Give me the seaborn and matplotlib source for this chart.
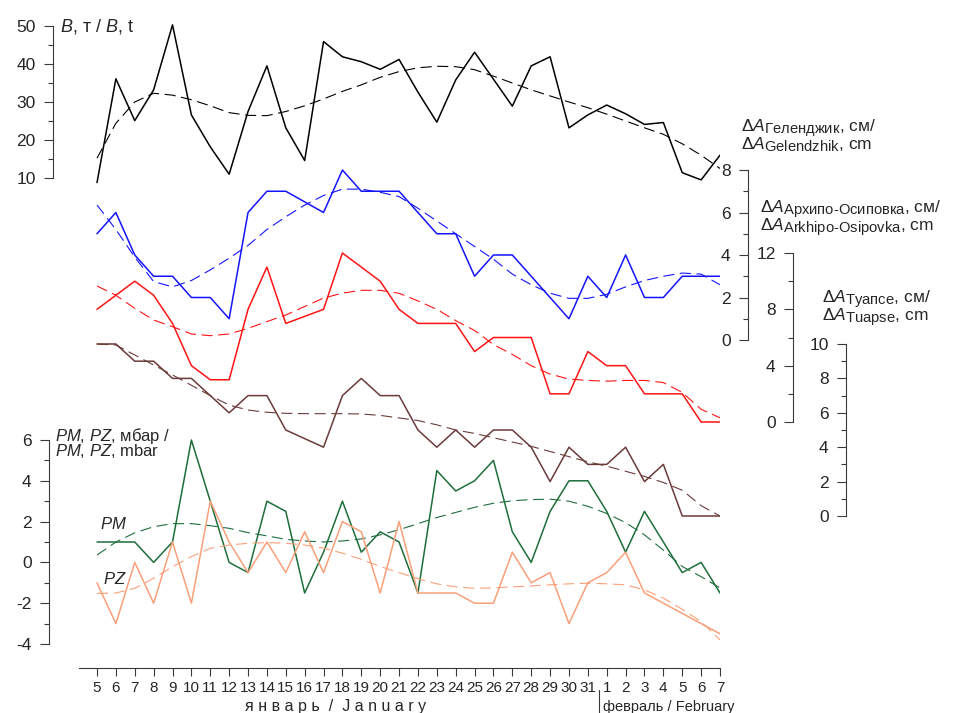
"""Ветровой нагон: B, ΔA по трём постам и давление PM/PZ, январь–февраль."""

import matplotlib

matplotlib.use("Agg")
import matplotlib.pyplot as plt
import numpy as np
import pandas as pd
import seaborn as sns
from matplotlib import font_manager
from matplotlib.lines import Line2D

try:
    import matplotlib._mathtext as _mt

    _mt.SHRINK_FACTOR = 0.85  # подстрочные индексы крупнее, как в оригинале
except ImportError:
    pass

W, H = 971, 713
PLOT_LEFT, PLOT_RIGHT = 79, 720
PLOT_TOP, PLOT_BOTTOM = 15, 668
FIRST_TICK_PX = 97

DAYS = ["5", "6", "7", "8", "9", "10", "11", "12", "13", "14", "15", "16", "17",
        "18", "19", "20", "21", "22", "23", "24", "25", "26", "27", "28", "29",
        "30", "31", "1", "2", "3", "4", "5", "6", "7"]

B_OBS = [8.8, 36.1, 25.1, 33.2, 50.3, 26.6, 18.2, 11.0, 27.5, 39.5, 23.2, 14.6, 45.9,
         41.9, 40.6, 38.6, 41.2, 32.6, 24.7, 35.8, 43.1, 36.0, 28.9, 39.5, 41.9,
         23.2, 26.6, 29.2, 26.9, 24.1, 24.6, 11.4, 9.5, 16.0]
B_TREND = [15.2, 24.4, 30.0, 32.3, 31.8, 30.6, 29.0, 27.2, 26.5, 26.4, 27.5, 29.0, 30.8,
           32.8, 34.5, 36.5, 38.0, 39.0, 39.4, 39.3, 38.5, 36.8, 35.0, 33.2, 31.6,
           30.0, 28.5, 26.8, 25.0, 23.2, 21.5, 19.0, 16.0, 12.5]

GEL_OBS = [5, 6, 4, 3, 3, 2, 2, 1, 6, 7, 7, 6.5, 6, 8, 7, 7, 7, 6, 5, 5, 3, 4, 4, 3, 2,
           1, 3, 2, 4, 2, 2, 3, 3, 3]
GEL_TREND = [6.35, 5.2, 3.9, 2.75, 2.5, 2.8, 3.3, 3.85, 4.45, 5.2, 5.8, 6.35, 6.8, 7.1,
             7.1, 6.95, 6.75, 6.2, 5.6, 5.0, 4.4, 3.8, 3.1, 2.6, 2.2, 1.96, 1.96, 2.15,
             2.5, 2.8, 3.0, 3.15, 3.1, 2.6]

ARKH_OBS = [8, 9, 10, 9, 7, 4, 3, 3, 8, 11, 7, 7.5, 8, 12, 11, 10, 8, 7, 7, 7, 5, 6, 6,
            6, 2, 2, 5, 4, 4, 2, 2, 2, 0, 0]
ARKH_TREND = [9.66, 9.0, 8.07, 7.24, 6.77, 6.25, 6.13, 6.25, 6.65, 7.13, 7.6, 8.2, 8.8,
              9.15, 9.35, 9.35, 9.14, 8.6, 8.0, 7.2, 6.5, 5.5, 4.8, 4.0, 3.4, 3.05,
              2.95, 2.9, 2.95, 2.95, 2.8, 2.1, 0.9, 0.3]

TUA_OBS = [10, 10, 9, 9, 8, 8, 7, 6, 7, 7, 5, 4.5, 4, 7, 8, 7, 7, 5, 4, 5, 4, 5, 5, 4,
           2, 4, 3, 3, 4, 2, 3, 0, 0, 0]
TUA_TREND = [10, 9.94, 9.36, 8.78, 8.2, 7.6, 7.0, 6.45, 6.16, 6.03, 5.97, 5.95, 5.95,
             5.95, 5.93, 5.85, 5.7, 5.55, 5.3, 5.0, 4.8, 4.55, 4.3, 4.05, 3.75, 3.45,
             3.15, 2.9, 2.6, 2.3, 1.95, 1.5, 0.6, 0.0]

PM_OBS = [1, 1, 1, 0, 1, 6, 3, 0, -0.5, 3, 2.5, -1.5, 0.5, 3, 0.5, 1.5, 1, -1.5, 4.5,
          3.5, 4, 5, 1.5, 0, 2.5, 4, 4, 2.5, 0.5, 2.5, 1, -0.5, 0, -1.5]
PM_TREND = [0.36, 1.0, 1.45, 1.75, 1.9, 1.9, 1.8, 1.67, 1.46, 1.3, 1.13, 1.05, 1.0,
            1.05, 1.15, 1.35, 1.6, 1.9, 2.2, 2.45, 2.7, 2.9, 3.02, 3.08, 3.1, 3.0,
            2.75, 2.4, 1.95, 1.35, 0.6, -0.2, -0.7, -1.25]

PZ_OBS = [-1, -3, 0, -2, 1, -2, 3, 1, -0.5, 1, -0.5, 1.5, -0.5, 2, 1.5, -1.5, 2, -1.5,
          -1.5, -1.5, -2, -2, 0.5, -1, -0.5, -3, -1, -0.5, 0.5, -1.5, -2, -2.5, -3, -3.5]
PZ_TREND = [-1.52, -1.5, -1.27, -0.78, -0.21, 0.28, 0.69, 0.85, 0.94, 0.97, 0.94, 0.85,
            0.7, 0.45, 0.15, -0.2, -0.5, -0.8, -1.05, -1.2, -1.27, -1.25, -1.2, -1.15,
            -1.1, -1.05, -1.02, -1.05, -1.1, -1.35, -1.75, -2.3, -2.9, -3.8]

# оси: (столбец наблюдений, столбец тренда, цвет, x оси в px,
#        (значение, px), (значение, px), шаг подписей, шаг мелких делений)
PANELS = {
    "B": ("b_obs", "b_trend", "#000000", 53, (10, 178), (50, 26), 10, 5),
    "gel": ("gel_obs", "gel_trend", "#1414ff", 748, (0, 340), (8, 170), 2, 1),
    "arkh": ("arkh_obs", "arkh_trend", "#ff1414", 793, (0, 422), (12, 253), 4, 2),
    "tua": ("tua_obs", "tua_trend", "#6b3b3b", 846, (0, 516), (10, 344), 2, 1),
    "pm": ("pm_obs", "pm_trend", "#1e6e3c", 49, (-4, 644), (6, 440), 2, 1),
}
PZ_COLOR = "#f9a07a"
SPINE = "#3a3a3a"


def pick_font(names: list[str]) -> str:
    for name in names:
        try:
            font_manager.findfont(font_manager.FontProperties(family=name),
                                  fallback_to_default=False)
            return name
        except ValueError:
            continue
    return ""


def ylim_for(ref1, ref2):
    (v1, p1), (v2, p2) = ref1, ref2
    s = (p1 - p2) / (v2 - v1)
    return v1 - (PLOT_BOTTOM - p1) / s, v1 + (p1 - PLOT_TOP) / s


def fx(px):
    return px / W


def fy(py):
    return 1 - py / H


def build_axes(fig, spine_px, ref1, ref2, step, minor):
    rect = [fx(PLOT_LEFT), fy(PLOT_BOTTOM), (PLOT_RIGHT - PLOT_LEFT) / W,
            (PLOT_BOTTOM - PLOT_TOP) / H]
    ax = fig.add_axes(rect, label=f"ax{spine_px}")
    ax.patch.set_visible(False)
    for side in ("top", "right", "bottom"):
        ax.spines[side].set_visible(False)
    width_px = PLOT_RIGHT - PLOT_LEFT
    ax.spines["left"].set_position(("axes", (spine_px - PLOT_LEFT) / width_px))
    lo, hi = ref1[0], ref2[0]
    ax.spines["left"].set_bounds(lo, hi)
    ax.spines["left"].set_color(SPINE)
    ax.spines["left"].set_linewidth(0.8)
    x_step = (PLOT_RIGHT - FIRST_TICK_PX) / (len(DAYS) - 1)
    ax.set_xlim(-(FIRST_TICK_PX - PLOT_LEFT) / x_step, len(DAYS) - 1)
    ax.set_ylim(*ylim_for(ref1, ref2))
    ax.set_yticks(np.arange(lo, hi + step / 2, step))
    ax.set_yticks(np.arange(lo, hi + minor / 2, minor), minor=True)
    ax.tick_params(axis="y", which="both", left=True, direction="out", width=0.8,
                   color=SPINE)
    ax.tick_params(axis="y", which="major", length=6.5, pad=6, labelsize=12.5)
    ax.tick_params(axis="y", which="minor", length=3.5)
    ax.set_xticks([])
    return ax


def main() -> None:
    sns.set_style("white")
    plt.rcParams["font.family"] = ["Liberation Sans", "DejaVu Sans"]
    plt.rcParams["axes.unicode_minus"] = False
    plt.rcParams["mathtext.fontset"] = "custom"
    plt.rcParams["mathtext.rm"] = "Liberation Sans"
    plt.rcParams["mathtext.it"] = "Liberation Sans:italic"
    plt.rcParams["mathtext.bf"] = "Liberation Sans:bold"
    plt.rcParams["mathtext.sf"] = "Liberation Sans"

    df = pd.DataFrame({
        "idx": np.arange(len(DAYS)),
        "b_obs": B_OBS, "b_trend": B_TREND,
        "gel_obs": GEL_OBS, "gel_trend": GEL_TREND,
        "arkh_obs": ARKH_OBS, "arkh_trend": ARKH_TREND,
        "tua_obs": TUA_OBS, "tua_trend": TUA_TREND,
        "pm_obs": PM_OBS, "pm_trend": PM_TREND,
        "pz_obs": PZ_OBS, "pz_trend": PZ_TREND,
    })

    fig = plt.figure(figsize=(W / 100, H / 100), dpi=100)
    axes = {}
    for key, (obs, trend, color, spine_px, r1, r2, step, minor) in PANELS.items():
        ax = build_axes(fig, spine_px, r1, r2, step, minor)
        sns.lineplot(data=df, x="idx", y=trend, ax=ax, color=color, linewidth=0.8,
                     linestyle=(0, (10, 5)), legend=False)
        sns.lineplot(data=df, x="idx", y=obs, ax=ax, color=color, linewidth=1.1,
                     legend=False)
        ax.set_xlabel("")
        ax.set_ylabel("")
        axes[key] = ax

    ax_p = axes["pm"]
    sns.lineplot(data=df, x="idx", y="pz_trend", ax=ax_p, color=PZ_COLOR, linewidth=0.8,
                 linestyle=(0, (10, 5)), legend=False)
    sns.lineplot(data=df, x="idx", y="pz_obs", ax=ax_p, color=PZ_COLOR, linewidth=1.1,
                 legend=False)
    ax_p.set_xlabel("")
    ax_p.set_ylabel("")

    # ось дней
    narrow = pick_font(["Liberation Sans Narrow", "Arial Narrow"])
    tick_font, tick_size = (narrow, 12.5) if narrow else ("Liberation Sans", 11)
    ax_p.spines["bottom"].set_visible(True)
    ax_p.spines["bottom"].set_color(SPINE)
    ax_p.spines["bottom"].set_linewidth(0.8)
    ax_p.set_xticks(np.arange(len(DAYS)))
    ax_p.set_xticklabels(DAYS, family=tick_font, fontsize=tick_size)
    ax_p.tick_params(axis="x", bottom=True, direction="out", length=6, width=0.8,
                     color=SPINE, pad=3)

    fig.text(fx(336), fy(707), "я н в а р ь  /  J a n u a r y", family=tick_font,
             fontsize=11.5, ha="center", va="center")
    fig.text(fx(603), fy(707), "февраль / February", family=tick_font,
             fontsize=10.5, ha="left", va="center")
    fig.add_artist(Line2D([fx(599), fx(599)], [fy(690), fy(713)], color=SPINE,
                          linewidth=0.8))

    # подписи осей
    lab = dict(fontsize=12.5, ha="left", va="center", linespacing=0.72)
    fig.text(fx(60), fy(27), r"$B$, т / $B$, t", fontsize=13, ha="left", va="center")
    fig.text(fx(741), fy(136), "Δ$A_{\\text{Геленджик}}$, см/\n"
             "Δ$A_{\\text{Gelendzhik}}$, cm", **lab)
    fig.text(fx(760), fy(219), "Δ$A_{\\text{Архипо-Осиповка}}$, см/\n"
             "Δ$A_{\\text{Arkhipo-Osipovka}}$, cm", **lab)
    fig.text(fx(822), fy(309), "Δ$A_{\\text{Туапсе}}$, см/\n"
             "Δ$A_{\\text{Tuapse}}$, cm", **lab)
    fig.text(fx(55), fy(443), "$PM$, $PZ$, мбар /\n$PM$, $PZ$, mbar",
             fontsize=12, ha="left", va="center", linespacing=0.78)
    fig.text(fx(100), fy(524), r"$PM$", fontsize=12, ha="left", va="center")
    fig.text(fx(103), fy(579), r"$PZ$", fontsize=12, ha="left", va="center")

    fig.savefig("out.png", dpi=100)


if __name__ == "__main__":
    main()
